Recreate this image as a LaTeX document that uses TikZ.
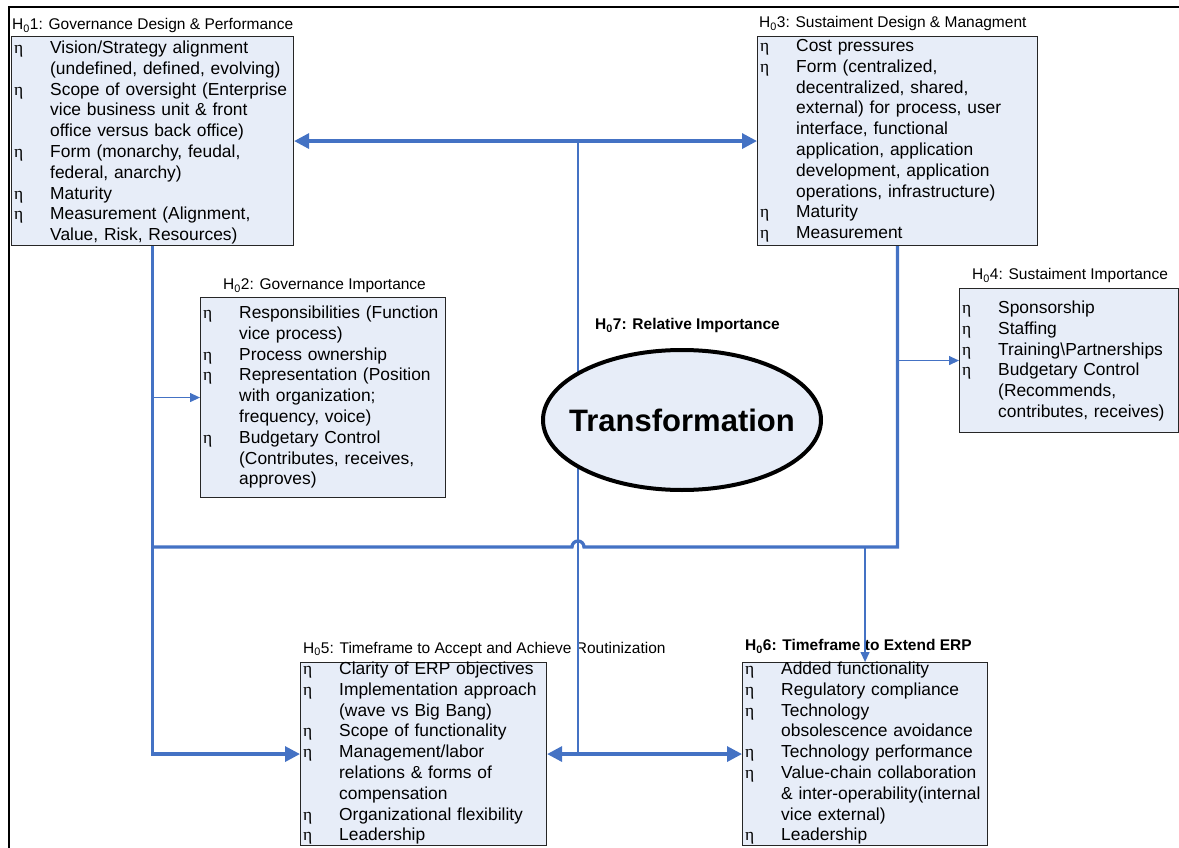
\documentclass[tikz,border=0pt]{standalone}
\usepackage{fontspec}
\setmainfont{Liberation Sans}
\newfontfamily\etafont{Liberation Serif}
\usepackage{tikz}
\usetikzlibrary{arrows.meta,calc,positioning,shapes.geometric}
\definecolor{linie}{RGB}{68,114,196}
\definecolor{kastenblau}{RGB}{231,237,248}
\newcommand{\Hn}[1]{H\textsubscript{0}#1}
\newcommand{\itm}[1]{\par\hangindent=36pt\hangafter=1\noindent
  \makebox[36pt][l]{\etafont η}\rule{0pt}{14pt}%
  \begingroup\let\\\newline#1\endgroup}

\begin{document}
\begin{tikzpicture}[
  x=1pt, y=-1pt,
  kastenbox/.style={draw=black!85, line width=1.1pt, fill=kastenblau,
                    inner sep=0pt, anchor=north west},
  liste/.style={anchor=north west, inner sep=0pt, text width=#1,
                align=left, font=\fontsize{17.4}{20.8}\selectfont},
  titel/.style={anchor=base west, inner sep=0pt,
                font=\fontsize{15.5}{18}\selectfont},
  dick/.style={linie, line width=3.3pt},
  duenn/.style={linie, line width=1.2pt},
  dickpfeil/.style={dick, -{Triangle[length=15pt,width=15pt]}},
  doppelpfeil/.style={dick, {Triangle[length=15pt,width=15pt]}-{Triangle[length=15pt,width=15pt]}},
  duennpfeil/.style={duenn, -{Triangle[length=10pt,width=9pt]}}
]
\useasboundingbox (0,0) rectangle (1179,848);

% ---------- Rahmen ------------------------------------------------
\draw[line width=2.5pt] (9,852) -- (9,7) -- (1182,7);

% ---------- H01 und H03: oben -------------------------------------
\node[kastenbox, minimum width=282pt, minimum height=209pt] (h1) at (11,36) {};
\node[titel] (t1) at (12,29.5) {\Hn{1}: Governance Design \& Performance};
\node[liste=280pt] (l1) at (14,32.5) {%
  \itm{Vision/Strategy alignment\\(undefined, defined, evolving)}
  \itm{Scope of oversight (Enterprise\\vice business unit \& front\\office versus back office)}
  \itm{Form (monarchy, feudal,\\federal, anarchy)}
  \itm{Maturity}
  \itm{Measurement (Alignment,\\Value, Risk, Resources)}\par};

\node[kastenbox, minimum width=280pt, minimum height=209pt] (h3) at (757,36) {};
\node[titel] (t3) at (759,27.5) {\Hn{3}: Sustaiment Design \& Managment};
\node[liste=280pt] (l3) at (760,30.5) {%
  \itm{Cost pressures}
  \itm{Form (centralized,\\decentralized, shared,\\external) for process, user\\interface, functional\\application, application\\development, application\\operations, infrastructure)}
  \itm{Maturity}
  \itm{Measurement}\par};

% ---------- H02 und H04: Mitte ------------------------------------
\node[kastenbox, minimum width=245pt, minimum height=200pt] (h2) at (200,297) {};
\node[titel] (t2) at (223,289.5) {\Hn{2}: Governance Importance};
\node[liste=245pt] (l2) at (203,297.5) {%
  \itm{Responsibilities (Function\\vice process)}
  \itm{Process ownership}
  \itm{Representation (Position\\with organization;\\frequency, voice)}
  \itm{Budgetary Control\\(Contributes, receives,\\approves)}\par};

\node[kastenbox, minimum width=219pt, minimum height=144pt] (h4) at (959,288) {};
\node[titel] (t4) at (972,279.6) {\Hn{4}: Sustaiment Importance};
\node[liste=225pt] (l4) at (962,292.5) {%
  \itm{Sponsorship}
  \itm{Staffing}
  \itm{Training\textbackslash Partnerships}
  \itm{Budgetary Control\\(Recommends,\\contributes, receives)}\par};

% ---------- H05 und H06: unten ------------------------------------
\node[kastenbox, minimum width=246pt, minimum height=183pt] (h5) at (300,662) {};
\node[titel] (t5) at (303,653) {\Hn{5}: Timeframe to Accept and Achieve Routinization};
\node[liste=250pt] (l5) at (303,653.5) {%
  \itm{Clarity of ERP objectives}
  \itm{Implementation approach\\(wave vs Big Bang)}
  \itm{Scope of functionality}
  \itm{Management/labor\\relations \& forms of\\compensation}
  \itm{Organizational flexibility}
  \itm{Leadership}\par};

\node[kastenbox, minimum width=245pt, minimum height=183pt] (h6) at (742,662) {};
\node[titel, font=\fontsize{15.5}{18}\selectfont\bfseries] (t6) at (745,650.5)
  {\Hn{6}: Timeframe to Extend ERP};
\node[liste=250pt] (l6) at (745,653.5) {%
  \itm{Added functionality}
  \itm{Regulatory compliance}
  \itm{Technology\\obsolescence avoidance}
  \itm{Technology performance}
  \itm{Value-chain collaboration\\\& inter-operability(internal\\vice external)}
  \itm{Leadership}\par};

% ---------- Verbindungen ------------------------------------------
\coordinate (bus) at (0,547);
\coordinate (mitte) at (578,0);

\draw[duenn] (mitte |- h1.east) -- (mitte |- h5.east);

\draw[doppelpfeil] (h1.east) -- (h3.west);
\draw[doppelpfeil] (h5.east) -- (h6.west);

\draw[dickpfeil] (h1.south) |- (h5.west);
\draw[dick] (h3.south) -- (h3.south |- bus) -- ($(mitte |- bus)+(6,0)$)
  arc[start angle=0, end angle=-180, radius=6] -- (h1.south |- bus);

\draw[duennpfeil] (h1.south |- h2.west) -- (h2.west);
\draw[duennpfeil] (h3.south |- h4.west) -- (h4.west);
\draw[duennpfeil] (h6.north |- bus) -- (h6.north);

% ---------- H07: Transformation -----------------------------------
\node[titel, font=\fontsize{15.5}{18}\selectfont\bfseries] (t7) at (595,329.5)
  {\Hn{7}: Relative Importance};
\node[ellipse, draw, line width=4pt, fill=kastenblau, inner sep=0pt,
      minimum width=278pt, minimum height=140pt,
      font=\fontsize{31}{36}\selectfont\bfseries]
  (trans) at (682,420) {\makebox[0pt][c]{Transformation}};

\end{tikzpicture}
\end{document}
